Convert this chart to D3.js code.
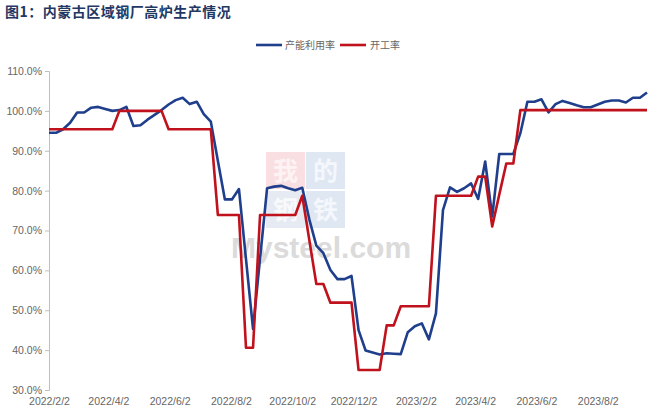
<!DOCTYPE html>
<html><head><meta charset="utf-8">
<script src="https://cdn.jsdelivr.net/npm/d3@7"></script>
<style>
html,body{margin:0;padding:0;background:#fff;}
svg{display:block;}
</style>
</head><body>
<svg id="chart" width="660" height="419"></svg>
<script>
const dates = ["2022-02-02","2022-02-09","2022-02-16","2022-02-23","2022-03-02","2022-03-09","2022-03-16","2022-03-23","2022-03-30","2022-04-06",
"2022-04-13","2022-04-20","2022-04-27","2022-05-04","2022-05-11","2022-05-18","2022-05-25","2022-06-01","2022-06-08","2022-06-15",
"2022-06-22","2022-06-29","2022-07-06","2022-07-13","2022-07-20","2022-07-27","2022-08-03","2022-08-10","2022-08-17","2022-08-24",
"2022-08-31","2022-09-07","2022-09-14","2022-09-21","2022-09-28","2022-10-05","2022-10-12","2022-10-19","2022-10-26","2022-11-02",
"2022-11-09","2022-11-16","2022-11-23","2022-11-30","2022-12-07","2022-12-14","2022-12-21","2022-12-28","2023-01-04","2023-01-11",
"2023-01-18","2023-01-25","2023-02-01","2023-02-08","2023-02-15","2023-02-22","2023-03-01","2023-03-08","2023-03-15","2023-03-22",
"2023-03-29","2023-04-05","2023-04-12","2023-04-19","2023-04-26","2023-05-03","2023-05-10","2023-05-17","2023-05-24","2023-05-31",
"2023-06-07","2023-06-14","2023-06-21","2023-06-28","2023-07-05","2023-07-12","2023-07-19","2023-07-26","2023-08-02","2023-08-09",
"2023-08-16","2023-08-23","2023-08-30","2023-09-06","2023-09-13","2023-09-20"];

const utilization = [94.5,94.5,95.4,97.0,99.6,99.6,100.8,101.0,100.5,100.0,
100.2,101.0,96.2,96.4,97.8,99.0,100.2,101.6,102.7,103.3,
101.7,102.3,99.2,97.3,87.5,77.8,77.8,80.4,62.8,45.3,
63.0,80.6,81.0,81.2,80.6,80.1,80.7,72.8,66.2,64.3,
60.1,57.8,57.8,58.6,45.0,39.9,39.4,38.9,39.2,39.1,
39.0,44.5,46.0,46.7,42.7,49.2,75.1,80.8,79.7,80.6,
81.8,77.9,87.3,73.5,89.2,89.2,89.2,94.4,102.3,102.3,
102.9,99.6,101.7,102.5,102.0,101.4,100.9,100.9,101.6,102.3,
102.6,102.6,102.1,103.3,103.3,104.6];

const operating = [95.4,95.4,95.4,95.4,95.4,95.4,95.4,95.4,95.4,95.4,
100.0,100.0,100.0,100.0,100.0,100.0,100.0,95.4,95.4,95.4,
95.4,95.4,95.4,95.4,73.9,73.9,73.9,73.9,40.6,40.6,
73.9,73.9,73.9,73.9,73.9,73.9,78.7,67.6,56.6,56.6,
51.9,51.9,51.9,51.9,35.0,35.0,35.0,35.0,46.2,46.2,
51.0,51.0,51.0,51.0,51.0,78.7,78.7,78.7,78.7,78.7,
78.7,83.5,83.5,71.0,79.0,86.8,86.8,100.2,100.2,100.2,
100.2,100.2,100.2,100.2,100.2,100.2,100.2,100.2,100.2,100.2,
100.2,100.2,100.2,100.2,100.2,100.2];

const seriesNames = ["产能利用率","开工率"];
const yTicks = [30,40,50,60,70,80,90,100,110];
const xTickLabels = ["2022/2/2","2022/4/2","2022/6/2","2022/8/2","2022/10/2","2022/12/2","2023/2/2","2023/4/2","2023/6/2","2023/8/2"];
const title = "图1：内蒙古区域钢厂高炉生产情况";

const svg = d3.select("#chart");
const parse = d3.timeParse("%Y-%m-%d");
const parseTick = d3.timeParse("%Y/%m/%d");
const dd = dates.map(parse);

const x = d3.scaleTime().domain([dd[0], dd[dd.length-1]]).range([49, 647]);
const y = d3.scaleLinear().domain([30,110]).range([390, 71]);

// title
svg.append("text").attr("x",5).attr("y",17)
  .attr("font-family","'Noto Sans CJK SC'").attr("font-weight","bold")
  .attr("font-size",14).attr("letter-spacing",0.5).attr("fill","#1f3864").text(title);

// watermark
const wm = svg.append("g").attr("opacity",0.45);
const boxes = [
  {ch:"我", bx:266, by:152, bg:"#f2b9bf", fg:"#fbe6e8"},
  {ch:"的", bx:306, by:152, bg:"#b9cbe6", fg:"#e8eef7"},
  {ch:"钢", bx:266, by:191, bg:"#c9d3e6", fg:"#eef2f8"},
  {ch:"铁", bx:306, by:191, bg:"#b9cbe6", fg:"#e8eef7"}
];
boxes.forEach(b=>{
  wm.append("rect").attr("x",b.bx).attr("y",b.by).attr("width",39).attr("height",37).attr("fill",b.bg);
  wm.append("text").attr("x",b.bx+19.5).attr("y",b.by+28).attr("text-anchor","middle")
    .attr("font-family","'Noto Sans CJK SC'").attr("font-weight","bold").attr("font-size",25).attr("fill",b.fg).text(b.ch);
});
wm.append("text").attr("x",231).attr("y",258).attr("font-family","'Liberation Sans', Arial")
  .attr("font-weight","bold").attr("font-size",30).attr("fill","#b0b0b0").text("Mysteel.com");

// y axis
const yAxis = d3.axisLeft(y).tickValues(yTicks).tickSize(4).tickPadding(3)
  .tickFormat(d => d3.format(".1f")(d) + "%");
const gy = svg.append("g").attr("transform","translate(49,0)").call(yAxis);
gy.select(".domain").attr("stroke","#bfbfbf");
gy.selectAll(".tick line").attr("stroke","#bfbfbf");
gy.selectAll(".tick text").attr("font-family","'Liberation Sans', Arial").attr("font-size",10.5).attr("fill","#666");

// x axis labels (no axis line)
const xAxis = d3.axisBottom(x).tickValues(xTickLabels.map(parseTick)).tickSize(0).tickPadding(0)
  .tickFormat((d,i) => xTickLabels[i]);
const gx = svg.append("g").attr("transform","translate(0,396)").call(xAxis);
gx.select(".domain").remove();
gx.selectAll(".tick text").attr("font-family","'Liberation Sans', Arial").attr("font-size",10.5).attr("fill","#666").attr("dy","0.9em");

// lines
const colors = ["#1f3f8c","#c0121c"];
const lineGen = vals => d3.line().x((d,i)=>x(dd[i])).y(d=>y(d))(vals);
[utilization, operating].forEach((vals,k)=>{
  svg.append("path").attr("d", lineGen(vals)).attr("fill","none")
    .attr("stroke",colors[k]).attr("stroke-width",2.6).attr("stroke-linejoin","round");
});

// legend
const legendItems = [{x:256, tx:285}, {x:340, tx:370}];
legendItems.forEach((it,k)=>{
  svg.append("line").attr("x1",it.x).attr("x2",it.x+26).attr("y1",45).attr("y2",45)
    .attr("stroke",colors[k]).attr("stroke-width",2.6);
  svg.append("text").attr("x",it.tx).attr("y",48.5).attr("font-family","'Noto Sans CJK SC'")
    .attr("font-size",10).attr("fill","#666").text(seriesNames[k]);
});
</script>
</body></html>
